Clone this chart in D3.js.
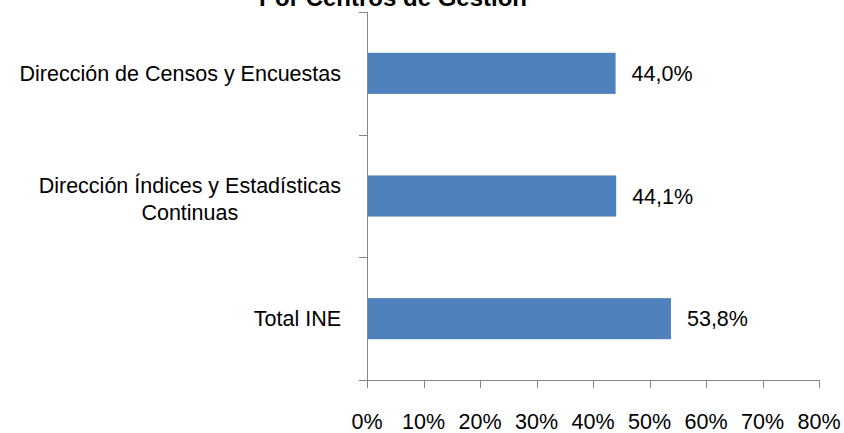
<!DOCTYPE html>
<html>
<head>
<meta charset="utf-8">
<script src="https://cdn.jsdelivr.net/npm/d3@7"></script>
<style>
  body { margin: 0; background: #fff; }
  svg text { font-family: "Liberation Sans", Arial, sans-serif; fill: #000; }
</style>
</head>
<body>
<div id="chart"></div>
<script>
// data
let categories = ["Dirección de Censos y Encuestas", "Dirección Índices y Estadísticas Continuas", "Total INE"];
let categoryLines = [["Dirección de Censos y Encuestas"], ["Dirección Índices y Estadísticas", "Continuas"], ["Total INE"]];
let values = [44.0, 44.1, 53.8];
let xTicks = [0, 10, 20, 30, 40, 50, 60, 70, 80];
let title = "Por Centros de Gestión";

let svg, x, y;
let width = 844, height = 433;

//
//	initD3
//
initD3 = function () {
	svg = d3.select("#chart").append("svg")
		.attr("width", width)
		.attr("height", height);

	x = d3.scaleLinear().domain([0, 80]).range([367, 819]);
	y = d3.scaleBand().domain(categories).range([12, 380]).paddingInner(0.665).paddingOuter(0.3325);
};

//
//	drawChart
//
drawChart = function () {
	// title (cut off at the top, as in the original)
	svg.append("text")
		.attr("x", 393)
		.attr("y", 6)
		.attr("text-anchor", "middle")
		.style("font-size", "24px")
		.style("font-weight", "bold")
		.text(title);

	// bars
	svg.selectAll("rect.bar").data(values).enter().append("rect")
		.attr("class", "bar")
		.attr("x", x(0))
		.attr("y", (d, i) => y(categories[i]))
		.attr("width", (d) => x(d) - x(0))
		.attr("height", y.bandwidth())
		.attr("fill", "#4F81BD");

	// data labels
	svg.selectAll("text.val").data(values).enter().append("text")
		.attr("class", "val")
		.attr("x", (d) => x(d) + 16)
		.attr("y", (d, i) => y(categories[i]) + y.bandwidth() / 2)
		.attr("dy", "0.36em")
		.style("font-size", "21.5px")
		.text((d) => d.toFixed(1).replace(".", ",") + "%");

	// y axis
	let yAxis = svg.append("g");
	yAxis.append("line")
		.attr("x1", x(0) + 0.5).attr("x2", x(0) + 0.5)
		.attr("y1", 12).attr("y2", 380)
		.attr("stroke", "#868686");
	let yTicks = d3.range(categories.length + 1).map((i) => 12 + i * (368 / categories.length));
	yAxis.selectAll("line.tk").data(yTicks).enter().append("line")
		.attr("class", "tk")
		.attr("x1", x(0) - 8).attr("x2", x(0))
		.attr("y1", (d) => Math.round(d) + 0.5).attr("y2", (d) => Math.round(d) + 0.5)
		.attr("stroke", "#868686");

	// category labels: centred block, right edge at 341
	categoryLines.forEach(function (lines, i) {
		let g = svg.append("text").style("font-size", "21.5px").attr("text-anchor", "middle");
		let widths = lines.map((l) => {
			let t = svg.append("text").style("font-size", "21.5px").text(l);
			let w = t.node().getComputedTextLength();
			t.remove();
			return w;
		});
		let maxW = d3.max(widths);
		let cx = 341 - maxW / 2;
		let cy = y(categories[i]) + y.bandwidth() / 2;
		let lh = 27;
		lines.forEach(function (l, j) {
			g.append("tspan")
				.attr("x", cx)
				.attr("y", cy + (j - (lines.length - 1) / 2) * lh + (lines.length > 1 ? 3 : 0))
				.attr("dy", "0.36em")
				.text(l);
		});
	});

	// x axis
	let xAxis = svg.append("g");
	xAxis.append("line")
		.attr("x1", x(0)).attr("x2", x(80) + 0.5)
		.attr("y1", 380.5).attr("y2", 380.5)
		.attr("stroke", "#868686");
	xAxis.selectAll("line.tk").data(xTicks).enter().append("line")
		.attr("class", "tk")
		.attr("x1", (d) => Math.round(x(d)) + 0.5).attr("x2", (d) => Math.round(x(d)) + 0.5)
		.attr("y1", 380).attr("y2", 388)
		.attr("stroke", "#868686");
	xAxis.selectAll("text").data(xTicks).enter().append("text")
		.attr("x", (d) => x(d))
		.attr("y", 429)
		.attr("text-anchor", "middle")
		.style("font-size", "21.5px")
		.text((d) => d + "%");
};

initD3();
drawChart();
</script>
</body>
</html>
